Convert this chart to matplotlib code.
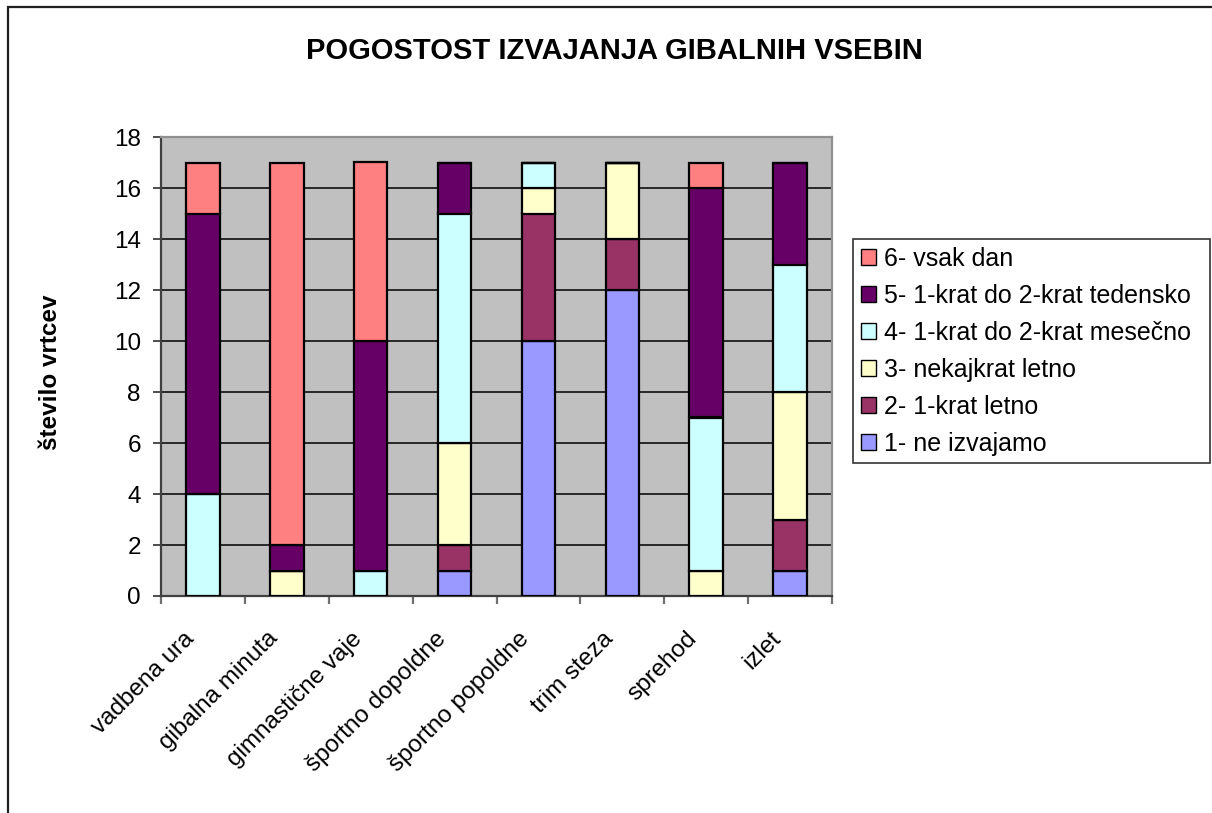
import numpy
import matplotlib.pyplot
from matplotlib.patches import Rectangle
from matplotlib.transforms import ScaledTranslation

categories = ["vadbena ura", "gibalna minuta", "gimnastične vaje", "športno dopoldne",
              "športno popoldne", "trim steza", "sprehod", "izlet"]
series_names = ["1- ne izvajamo", "2- 1-krat letno", "3- nekajkrat letno",
                "4- 1-krat do 2-krat mesečno", "5- 1-krat do 2-krat tedensko", "6- vsak dan"]
s1 = [0, 0, 0, 1, 10, 12, 0, 1]
s2 = [0, 0, 0, 1, 5, 2, 0, 2]
s3 = [0, 1, 0, 4, 1, 3, 1, 5]
s4 = [4, 0, 1, 9, 1, 0, 6, 5]
s5 = [11, 1, 9, 2, 0, 0, 9, 4]
s6 = [2, 15, 7, 0, 0, 0, 1, 0]
colors = ["#9999FF", "#993366", "#FFFFCC", "#CCFFFF", "#660066", "#FF8080"]
yticks = [0, 2, 4, 6, 8, 10, 12, 14, 16, 18]


def main():
  matplotlib.pyplot.rcParams['font.family'] = ['Liberation Sans', 'DejaVu Sans']
  W, H = 1212, 813
  fig = matplotlib.pyplot.figure(figsize=(W / 100, H / 100), dpi=100)
  # chart frame (only left and top edges visible)
  fig.patches.append(Rectangle((8 / W, -0.1), 1.2, 1.1 - 7 / H,
                               transform=fig.transFigure, fill=False,
                               edgecolor='#202020', linewidth=1.6))
  ax = fig.add_axes([161 / W, 1 - 596 / H, (832 - 161) / W, (596 - 137) / H])
  ax.set_facecolor('#C0C0C0')
  x = numpy.arange(len(categories))
  bottom = numpy.zeros(len(categories))
  handles = []
  for name, vals, c in zip(series_names, [s1, s2, s3, s4, s5, s6], colors):
    vals = numpy.array(vals, dtype=float)
    b = ax.bar(x, vals, 0.4, bottom=bottom, color=c, edgecolor='black',
               linewidth=1.6, label=name, zorder=3)
    handles.append(b)
    bottom += vals
  ax.set_xlim(-0.5, len(categories) - 0.5)
  ax.set_ylim(0, 18)
  ax.set_yticks(yticks)
  ax.set_yticklabels([str(v) for v in yticks], fontsize=17.5)
  ax.yaxis.grid(True, color='black', linewidth=1.1, zorder=0)
  ax.set_axisbelow(True)
  ax.set_xticks(x)
  ax.set_xticklabels(categories, rotation=45, ha='right', rotation_mode='anchor', fontsize=17.5)
  ax.tick_params(axis='x', length=0, pad=14)
  offset = ScaledTranslation(-0.2, -0.12, fig.dpi_scale_trans)
  for lbl in ax.get_xticklabels():
    lbl.set_transform(lbl.get_transform() + offset)
  ax.set_xticks(numpy.arange(len(categories) + 1) - 0.5, minor=True)
  ax.tick_params(axis='x', which='minor', length=5.5, width=1.6, color='#707070')
  ax.tick_params(axis='y', length=5.5, width=1.2, color='#303030', pad=9)
  for s in ['top', 'right']:
    ax.spines[s].set_color('#909090')
    ax.spines[s].set_linewidth(1.6)
  for s in ['left', 'bottom']:
    ax.spines[s].set_color('#404040')
    ax.spines[s].set_linewidth(1.6)
  fig.text(51 / W, 1 - 372 / H, "število vrtcev", fontsize=17.5, fontweight='bold',
           rotation=90, ha='center', va='center')
  fig.text(614.5 / W, 1 - 51 / H, "POGOSTOST IZVAJANJA GIBALNIH VSEBIN",
           fontsize=21, fontweight='bold', ha='center', va='center')
  leg = ax.legend(handles[::-1], series_names[::-1], loc='upper left',
                  bbox_to_anchor=(853 / W, 1 - 492 / H, 357 / W, 253 / H),
                  bbox_transform=fig.transFigure, mode='expand', fontsize=18,
                  frameon=True, fancybox=False, handlelength=0.6, handleheight=0.6,
                  handletextpad=0.32, labelspacing=0.52, borderaxespad=0, borderpad=0.31)
  for p in leg.get_patches():
    p.set_linewidth(1.0)
  leg.get_frame().set_edgecolor('black')
  leg.get_frame().set_linewidth(1.2)
  matplotlib.pyplot.savefig('out.png', dpi=100)


if __name__ == "__main__":
  main()
